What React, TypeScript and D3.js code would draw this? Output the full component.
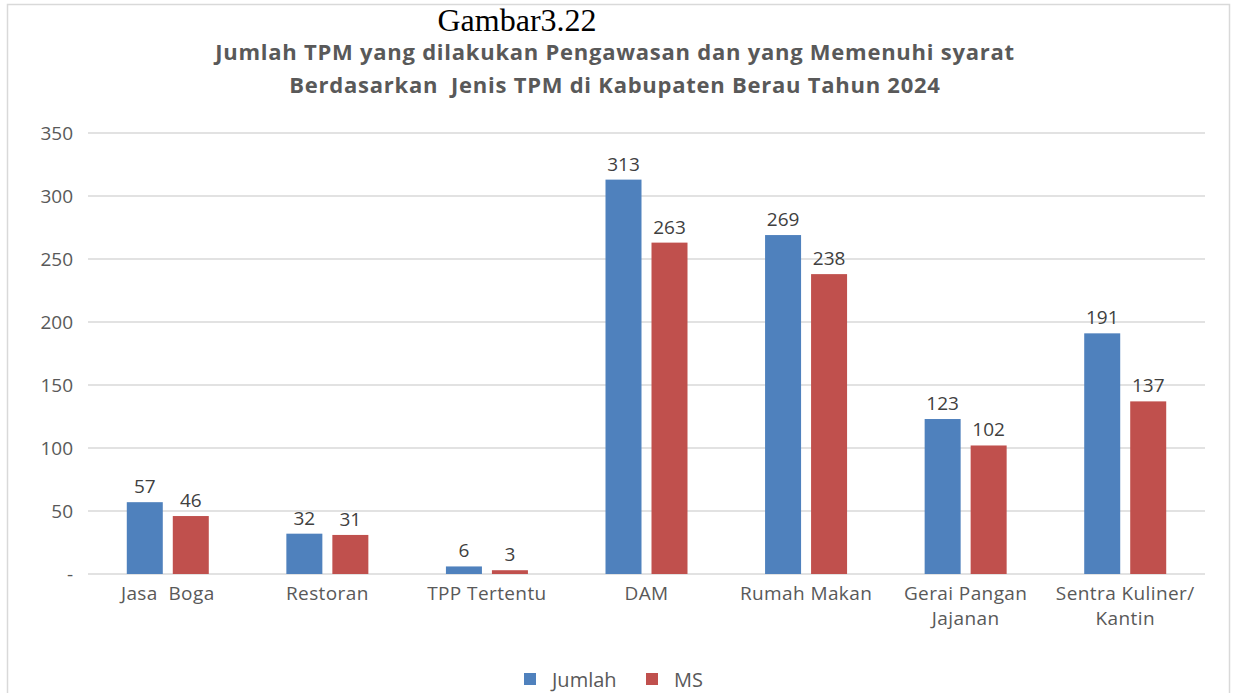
import React from "react";
import * as d3 from "d3";

const categories: string[][] = [
  ["Jasa  Boga"],
  ["Restoran"],
  ["TPP Tertentu"],
  ["DAM"],
  ["Rumah Makan"],
  ["Gerai Pangan", "Jajanan"],
  ["Sentra Kuliner/", "Kantin"],
];
const jumlah: number[] = [57, 32, 6, 313, 269, 123, 191];
const ms: number[] = [46, 31, 3, 263, 238, 102, 137];
const yTicks: number[] = [0, 50, 100, 150, 200, 250, 300, 350];
const seriesNames = ["Jumlah", "MS"];
const colors = ["#4f81bd", "#c0504d"];

const W = 1233;
const H = 693;
const left = 88;
const right = 1205;
const top = 133;
const bottom = 574;
const font = "'Open Sans', 'Noto Sans', sans-serif";

export default function App() {
  const x = d3.scaleBand<number>().domain(d3.range(categories.length)).range([left, right]);
  const y = d3.scaleLinear().domain([0, 350]).range([bottom, top]);
  const barW = 36;
  const gap = 10;
  const series = [jumlah, ms];
  return (
    <svg width={W} height={H} style={{ position: "absolute", left: 0, top: 0 }}>
      <rect x={0} y={0} width={W} height={H} fill="#fff" />
      <rect x={7.5} y={4.5} width={1222} height={700} fill="#fff" stroke="#d9d9d9" strokeWidth={1.5} />
      <text x={517} y={31} textAnchor="middle" fontFamily="'Liberation Serif', serif" fontSize={32} fill="#000">
        Gambar3.22
      </text>
      <text x={615} y={60} textAnchor="middle" fontFamily={font} fontWeight="bold" fontSize={22} letterSpacing={0.75} fill="#595959">
        Jumlah TPM yang dilakukan Pengawasan dan yang Memenuhi syarat
      </text>
      <text x={615} y={93} textAnchor="middle" fontFamily={font} fontWeight="bold" fontSize={22} letterSpacing={0.75} fill="#595959" style={{ whiteSpace: "pre" }}>
        {"Berdasarkan  Jenis TPM di Kabupaten Berau Tahun 2024"}
      </text>
      {yTicks.map((t) => (
        <g key={t}>
          <line x1={left} x2={right} y1={y(t)} y2={y(t)} stroke="#d9d9d9" strokeWidth={1.5} />
          <text x={73} y={y(t) + 7} textAnchor="end" fontFamily={font} fontSize={19} fill="#595959">
            {t === 0 ? "-" : t}
          </text>
        </g>
      ))}
      {categories.map((c, i) => {
        const cx = (x(i) as number) + x.bandwidth() / 2;
        return (
          <g key={i}>
            {series.map((s, k) => {
              const bx = cx - gap / 2 - barW + k * (barW + gap);
              return (
                <g key={k}>
                  <rect x={bx} y={y(s[i])} width={barW} height={bottom - y(s[i])} fill={colors[k]} />
                  <text x={bx + barW / 2} y={y(s[i]) - 9} textAnchor="middle" fontFamily={font} fontSize={19} fill="#404040">
                    {s[i]}
                  </text>
                </g>
              );
            })}
            {c.map((line, j) => (
              <text key={j} x={cx} y={600 + j * 25} textAnchor="middle" fontFamily={font} fontSize={19} letterSpacing={0.4} fill="#595959" style={{ whiteSpace: "pre" }}>
                {line}
              </text>
            ))}
          </g>
        );
      })}
      {seriesNames.map((n, k) => {
        const lx = k === 0 ? 524 : 646;
        return (
          <g key={n}>
            <rect x={lx} y={673} width={12} height={12} fill={colors[k]} />
            <text x={lx + 28} y={687} fontFamily={font} fontSize={20} fill="#595959">
              {n}
            </text>
          </g>
        );
      })}
    </svg>
  );
}
